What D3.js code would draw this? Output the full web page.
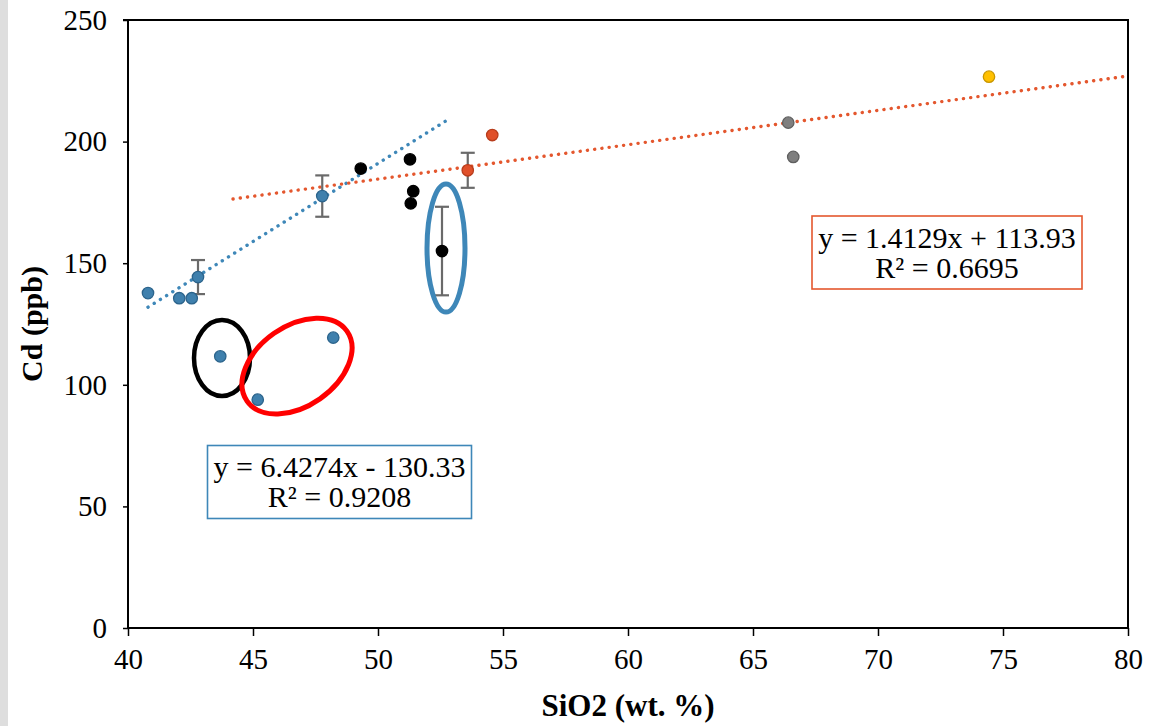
<!DOCTYPE html>
<html>
<head>
<meta charset="utf-8">
<script src="https://cdn.jsdelivr.net/npm/d3@7"></script>
<style>
  html, body { margin: 0; padding: 0; background: #fff; }
  svg { display: block; }
</style>
</head>
<body>
<svg id="chart" width="1150" height="726"></svg>
<script>
// Sample groups: SiO2 (wt. %) vs Cd (ppb); err = error bar half-length
const blueSamples = [
  { x: 40.8,  y: 137.7 },
  { x: 42.05, y: 135.6 },
  { x: 42.55, y: 135.6 },
  { x: 42.8,  y: 144.3, err: 7.0 },
  { x: 47.77, y: 177.6, err: 8.5 },
  { x: 43.69, y: 111.7 },
  { x: 45.19, y: 93.9 },
  { x: 48.21, y: 119.4 }
];
const blackSamples = [
  { x: 49.31, y: 188.9 },
  { x: 51.28, y: 192.7 },
  { x: 51.41, y: 179.6 },
  { x: 51.31, y: 174.6 },
  { x: 52.56, y: 155.0, err: 18.2 }
];
const orangeSamples = [
  { x: 54.57, y: 202.7 },
  { x: 53.59, y: 188.2, err: 7.2 }
];
const greySamples = [
  { x: 66.41, y: 207.8 },
  { x: 66.61, y: 193.7 }
];
const yellowSamples = [
  { x: 74.44, y: 226.7 }
];

// Linear fits: slope, intercept, R², x-extent
const blueFit   = { slope: 6.4274, intercept: -130.33, r2: "0.9208", from: 40.8, to: 52.8 };
const orangeFit = { slope: 1.4129, intercept: 113.93,  r2: "0.6695", from: 44.2, to: 80 };

const xTicks = [40, 45, 50, 55, 60, 65, 70, 75, 80];
const yTicks = [0, 50, 100, 150, 200, 250];

// Highlight rings around sample clusters (centres in data units)
const rings = [
  { cx: 43.76, cy: 111.0, color: "#000000" },
  { cx: 46.76, cy: 107.7, color: "#ff0000" },
  { cx: 52.72, cy: 156.2, color: "#3e87b8" }
];

const SERIF = "'Liberation Serif', 'Times New Roman', serif";
const svg = d3.select("#chart");
const W = 1150, H = 726;
const plot = { left: 128, right: 1128, top: 20, bottom: 628 };

const x = d3.scaleLinear().domain([40, 80]).range([plot.left, plot.right]);
const y = d3.scaleLinear().domain([0, 250]).range([plot.bottom, plot.top]);

// grey strip along the left edge
svg.append("rect").attr("x", 0).attr("y", 0).attr("width", 8).attr("height", H).attr("fill", "#dedede");

// plot frame (top + right)
svg.append("path")
  .attr("d", `M${x(40) - 5},${y(250)} H${x(80)} V${y(0)}`)
  .attr("fill", "none").attr("stroke", "#000").attr("stroke-width", 2);

// axes
const xAxis = svg.append("g").attr("transform", `translate(0,${y(0)})`)
  .call(d3.axisBottom(x).tickValues(xTicks).tickSize(8).tickPadding(12).tickFormat(d3.format("d")));
const yAxis = svg.append("g").attr("transform", `translate(${x(40)},0)`)
  .call(d3.axisLeft(y).tickValues(yTicks).tickSize(5).tickPadding(16).tickFormat(d3.format("d")));
[xAxis, yAxis].forEach(g => {
  g.attr("font-family", null);
  g.select(".domain").attr("stroke", "#000").attr("stroke-width", 2);
  g.selectAll(".tick line").attr("stroke", "#000").attr("stroke-width", 1.5);
  g.selectAll(".tick text")
    .style("font-family", SERIF)
    .style("font-size", "29px").attr("fill", "#000");
});
xAxis.select(".domain").attr("d", `M${x(40)},0H${x(80)}`);
yAxis.select(".domain").attr("d", `M0,${y(0)}V${y(250)}`);

// axis titles
svg.append("text")
  .attr("x", (plot.left + plot.right) / 2).attr("y", 716)
  .attr("text-anchor", "middle")
  .style("font-family", SERIF).style("font-size", "31px").style("font-weight", "bold")
  .text("SiO2 (wt. %)");
svg.append("text")
  .attr("transform", `translate(42,${(plot.top + plot.bottom) / 2}) rotate(-90)`)
  .attr("text-anchor", "middle")
  .style("font-family", SERIF).style("font-size", "30px").style("font-weight", "bold")
  .text("Cd (ppb)");

// trend lines (dotted)
function drawFit(fit, color) {
  const pts = [fit.from, fit.to].map(v => [x(v), y(fit.slope * v + fit.intercept)]);
  svg.append("path")
    .attr("d", d3.line()(pts))
    .attr("fill", "none").attr("stroke", color)
    .attr("stroke-width", 3.4).attr("stroke-linecap", "round")
    .attr("stroke-dasharray", "0.1 7.2");
}
drawFit(blueFit, "#3e87b8");
drawFit(orangeFit, "#e4572e");

// error bars
const allSamples = [blueSamples, blackSamples, orangeSamples, greySamples, yellowSamples];
const errG = svg.append("g").attr("stroke", "#6a6a6a").attr("stroke-width", 2.2);
allSamples.flat().filter(d => d.err).forEach(d => {
  const cx = x(d.x), y0 = y(d.y - d.err), y1 = y(d.y + d.err);
  errG.append("line").attr("x1", cx).attr("x2", cx).attr("y1", y0).attr("y2", y1);
  errG.append("line").attr("x1", cx - 7).attr("x2", cx + 7).attr("y1", y0).attr("y2", y0);
  errG.append("line").attr("x1", cx - 7).attr("x2", cx + 7).attr("y1", y1).attr("y2", y1);
});

// markers
function drawGroup(data, fill, stroke) {
  svg.append("g").selectAll("circle").data(data).join("circle")
    .attr("cx", d => x(d.x)).attr("cy", d => y(d.y)).attr("r", 5.7)
    .attr("fill", fill).attr("stroke", stroke).attr("stroke-width", 1.3);
}
drawGroup(blueSamples, "#3f80ad", "#2c648c");
drawGroup(blackSamples, "#000000", "#000000");
drawGroup(orangeSamples, "#e0502a", "#b83d1c");
drawGroup(greySamples, "#7f7f7f", "#5f5f5f");
drawGroup(yellowSamples, "#ffc000", "#c99700");

// highlight rings
const ringShapes = [
  { rx: 28, ry: 38, rot: 0, w: 4.5 },
  { rx: 61, ry: 40, rot: -35, w: 5 },
  { rx: 19, ry: 64, rot: 0, w: 5 }
];
rings.forEach((r, i) => {
  const s = ringShapes[i];
  svg.append("ellipse")
    .attr("transform", `translate(${x(r.cx)},${y(r.cy)}) rotate(${s.rot})`)
    .attr("rx", s.rx).attr("ry", s.ry)
    .attr("fill", "none").attr("stroke", r.color).attr("stroke-width", s.w);
});

// equation boxes
function eqBox(fit, color, cxVal, cyVal, w, h) {
  const cx = x(cxVal), cy = y(cyVal);
  const g = svg.append("g").attr("transform", `translate(${cx},${cy})`);
  g.append("rect").attr("x", -w / 2).attr("y", -h / 2).attr("width", w).attr("height", h)
    .attr("fill", "#fff").attr("stroke", color).attr("stroke-width", 1.6);
  const sign = fit.intercept < 0 ? "-" : "+";
  const line1 = `y = ${fit.slope}x ${sign} ${Math.abs(fit.intercept).toFixed(2)}`;
  const line2 = `R² = ${fit.r2}`;
  [[line1, -5], [line2, 25]].forEach(([t, dy]) => {
    g.append("text").attr("text-anchor", "middle").attr("y", dy)
      .style("font-family", SERIF).style("font-size", "30px").attr("fill", "#000")
      .text(t);
  });
}
eqBox(blueFit, "#3e87b8", 40 + (339.5 - 128) / 25, (628 - 482) / 2.432, 264, 73);
eqBox(orangeFit, "#e4572e", 40 + (947 - 128) / 25, (628 - 252.5) / 2.432, 270, 73);
</script>
</body>
</html>
